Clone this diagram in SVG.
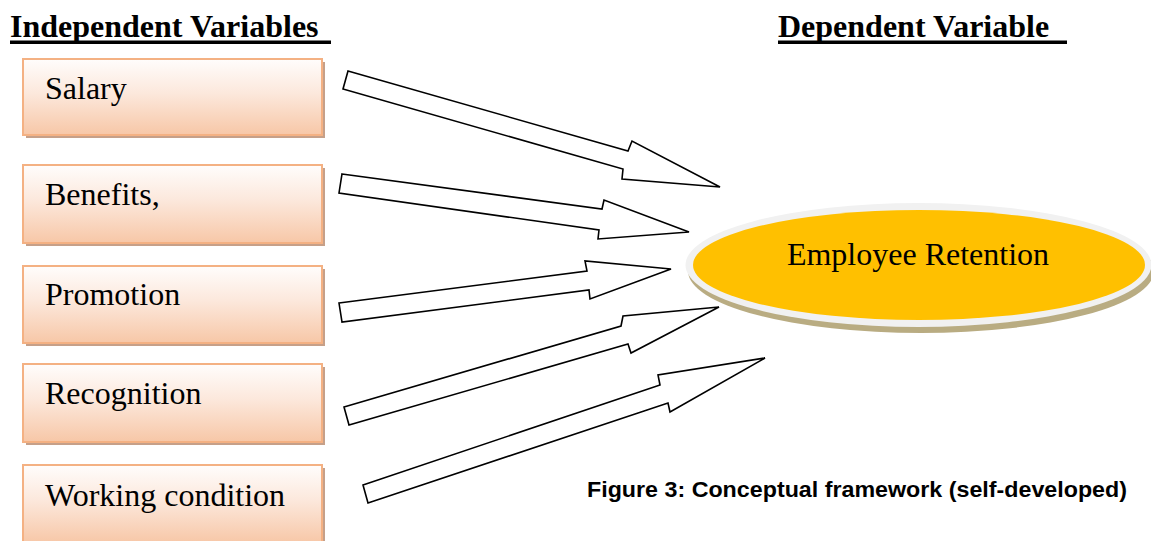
<svg xmlns="http://www.w3.org/2000/svg" width="1151" height="541" viewBox="0 0 1151 541">
  <style>
    .heading { font-family: "Liberation Serif", "Times New Roman", serif; font-size: 32px; font-weight: bold; fill: #000; }
    .label { font-family: "Liberation Serif", "Times New Roman", serif; font-size: 32px; fill: #000; }
    .caption { font-family: "Liberation Sans", Arial, sans-serif; font-size: 21.5px; font-weight: bold; fill: #000; }
    .box { fill: url(#boxFill); stroke: #f4b183; stroke-width: 2; }
    .box-shadow { fill: #c6a089; }
    .arrow { fill: #fff; stroke: #000; stroke-width: 1.6; stroke-linejoin: miter; }
  </style>
  <defs>
    <linearGradient id="boxFill" x1="0" y1="0" x2="0" y2="1">
      <stop offset="0" stop-color="#fffdfc"/>
      <stop offset="0.45" stop-color="#fce8dc"/>
      <stop offset="1" stop-color="#f7c7a7"/>
    </linearGradient>
    <filter id="soft" x="-5%" y="-5%" width="110%" height="110%">
      <feGaussianBlur stdDeviation="0.6"/>
    </filter>
  </defs>

  <rect width="1151" height="541" fill="#fff"/>

  <!-- column headings -->
  <g id="heading-independent">
    <text class="heading" x="10" y="37">Independent Variables</text>
    <rect x="10" y="40.5" width="321" height="3.5" fill="#000"/>
  </g>
  <g id="heading-dependent">
    <text class="heading" x="778" y="37">Dependent Variable</text>
    <rect x="778" y="40.5" width="289" height="3.5" fill="#000"/>
  </g>

  <!-- independent variable boxes -->
  <g id="node-salary">
    <rect class="box-shadow" x="26" y="62" width="299" height="76" filter="url(#soft)"/>
    <rect class="box" x="23" y="59" width="299" height="76"/>
    <text class="label" x="45" y="99">Salary</text>
  </g>
  <g id="node-benefits">
    <rect class="box-shadow" x="26" y="168" width="299" height="78" filter="url(#soft)"/>
    <rect class="box" x="23" y="165" width="299" height="78"/>
    <text class="label" x="45" y="205">Benefits,</text>
  </g>
  <g id="node-promotion">
    <rect class="box-shadow" x="26" y="269" width="299" height="77" filter="url(#soft)"/>
    <rect class="box" x="23" y="266" width="299" height="77"/>
    <text class="label" x="45" y="305">Promotion</text>
  </g>
  <g id="node-recognition">
    <rect class="box-shadow" x="26" y="367" width="299" height="78" filter="url(#soft)"/>
    <rect class="box" x="23" y="364" width="299" height="78"/>
    <text class="label" x="45" y="404">Recognition</text>
  </g>
  <g id="node-working-condition">
    <rect class="box-shadow" x="26" y="468" width="299" height="78" filter="url(#soft)"/>
    <rect class="box" x="23" y="465" width="299" height="78"/>
    <text class="label" x="45" y="506">Working condition</text>
  </g>

  <!-- dependent variable ellipse -->
  <g id="node-employee-retention">
    <ellipse cx="921" cy="271" rx="233" ry="62" fill="#b9ac82" filter="url(#soft)"/>
    <ellipse cx="918.5" cy="265" rx="233" ry="62" fill="#f1f1f1"/>
    <ellipse cx="919" cy="265" rx="226" ry="55" fill="#ffc000"/>
    <text class="label" x="918" y="265" text-anchor="middle">Employee Retention</text>
  </g>

  <!-- block arrows -->
  <g id="connectors">
    <polygon class="arrow" points="348,71 628,151 632,141 720,187 622,179 623,169 343,89"/>
    <polygon class="arrow" points="342,174 602,209 604,200 689,232 598,239 599,230 339,193"/>
    <polygon class="arrow" points="339,303 587,271 585,261 671,269 590,299 589,290 342,322"/>
    <polygon class="arrow" points="344,407 621,326 623,316 719,307 631,353 628,344 349,425"/>
    <polygon class="arrow" points="363,485 660,385 658,375 765,358 670,412 668,403 368,503"/>
  </g>

  <text class="caption" x="587" y="497" textLength="540" lengthAdjust="spacingAndGlyphs">Figure 3: Conceptual framework (self-developed)</text>
</svg>
